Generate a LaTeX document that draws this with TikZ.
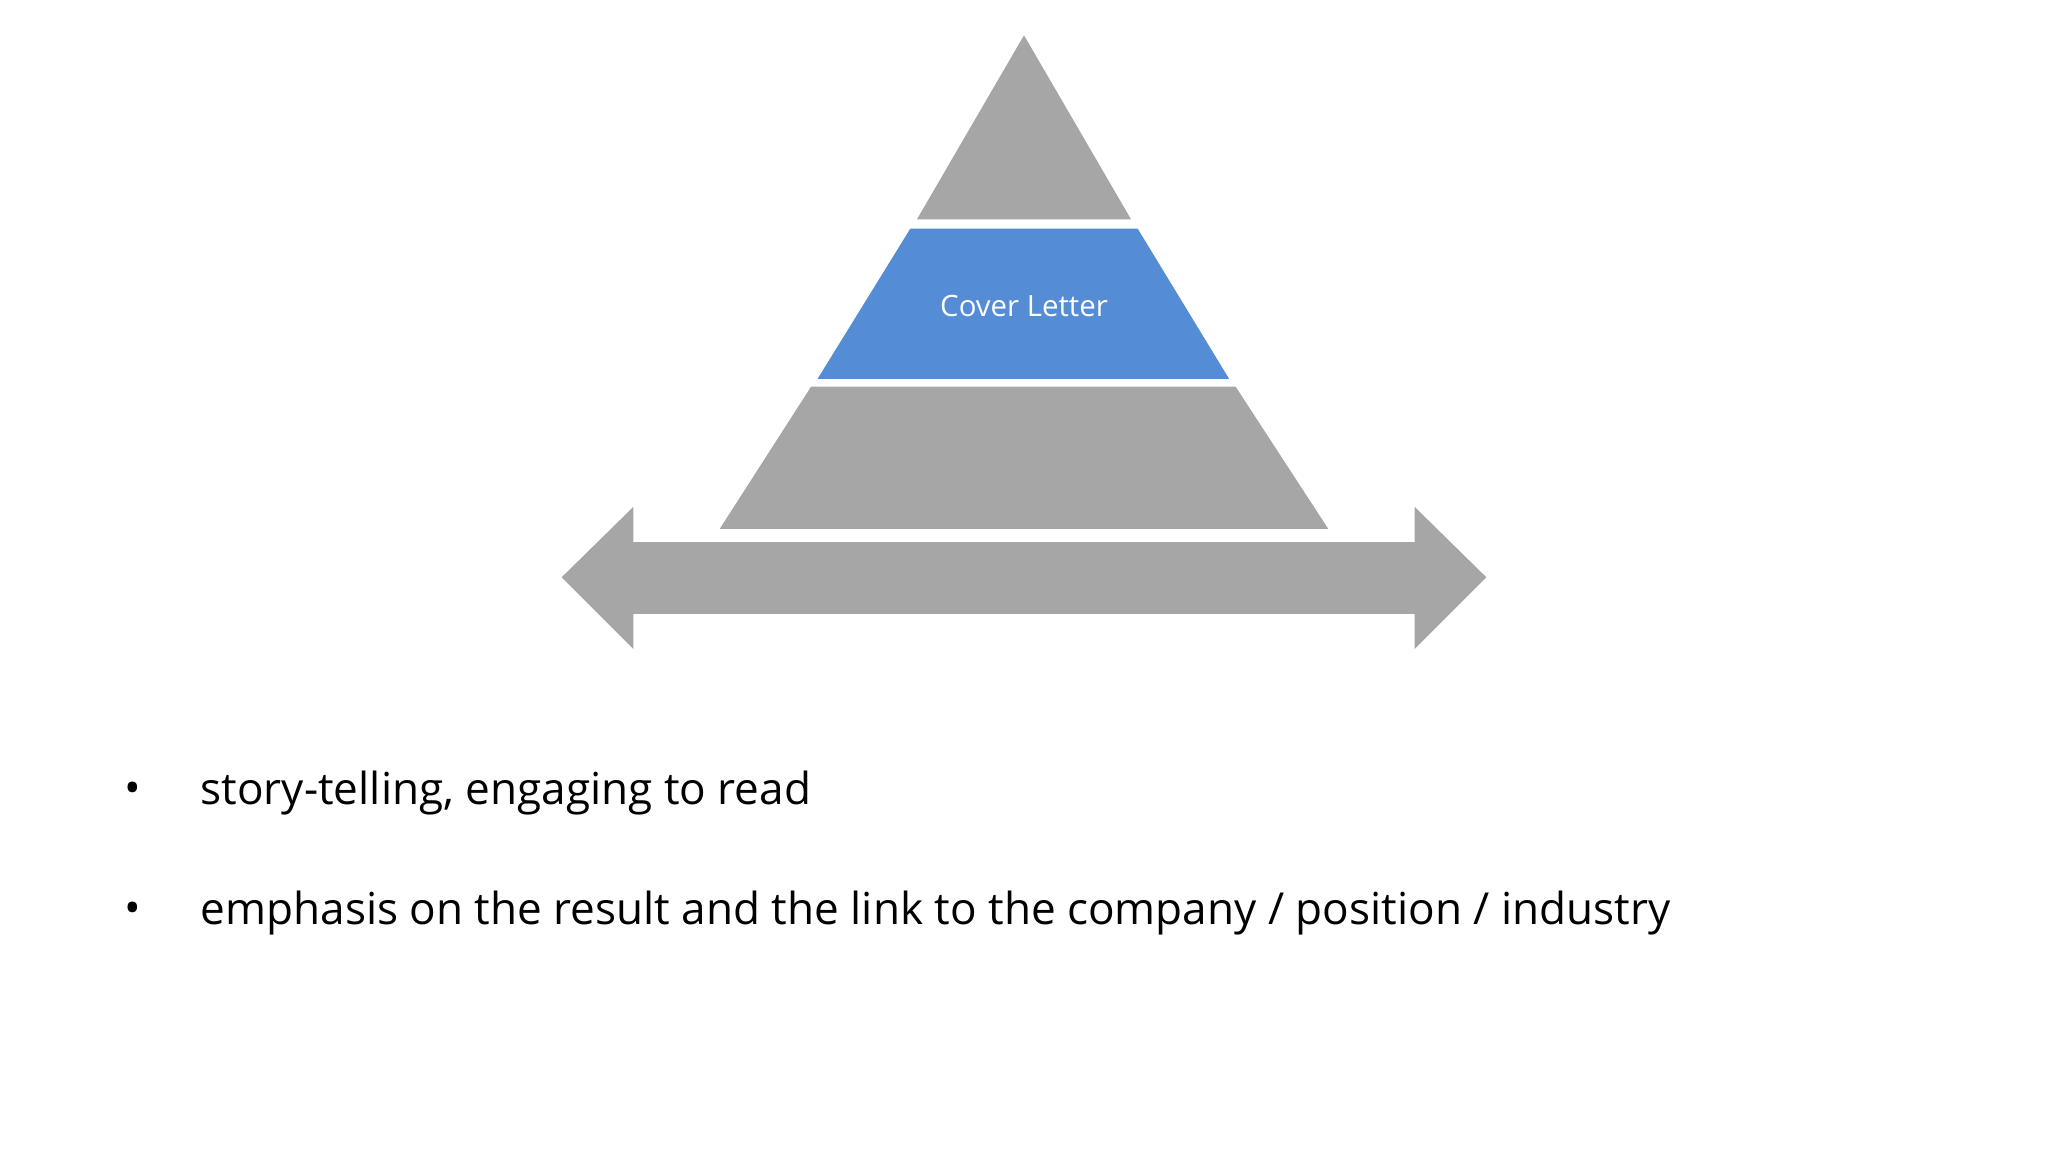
\documentclass[tikz,border=0pt]{standalone}
\usepackage{fontspec}
\setmainfont{Open Sans}
\usetikzlibrary{positioning}
\definecolor{tiergray}{HTML}{A6A6A6}
\definecolor{tierblue}{HTML}{558CD6}
\tikzset{tier/.style={fill=tiergray, draw=none},
         bullettext/.style={anchor=west, inner sep=0pt, font=\fontsize{9.6}{11}\selectfont}}
\begin{document}
\begin{tikzpicture}[x=0.01cm, y=-0.01cm]
    \useasboundingbox (0,0) rectangle (1568,882);
    \fill[tier] (784,27) -- (866,168) -- (702,168) -- cycle;
    \fill[tierblue] (697,175) -- (871,175) -- (941,290) -- (626,290) -- cycle;
    \fill[tier] (621,296) -- (946,296) -- (1017,405) -- (551,405) -- cycle;
    \fill[tier] (430,442) -- (485,388) -- (485,415) -- (1083,415) -- (1083,388)
        -- (1138,442) -- (1083,497) -- (1083,470) -- (485,470) -- (485,497) -- cycle;
    \node[white, font=\fontsize{6.4}{8}\selectfont] (cover) at (784,234) {Cover Letter};

    \node[bullettext] (b1) at (153,607) {story-telling, engaging to read};
    \node[bullettext] (b2) at (153,699) {emphasis on the result and the link to the company / position / industry};
    \node[bullettext] (d1) at (95,607) {•};
    \node[bullettext] (d2) at (95,699) {•};
\end{tikzpicture}
\end{document}
